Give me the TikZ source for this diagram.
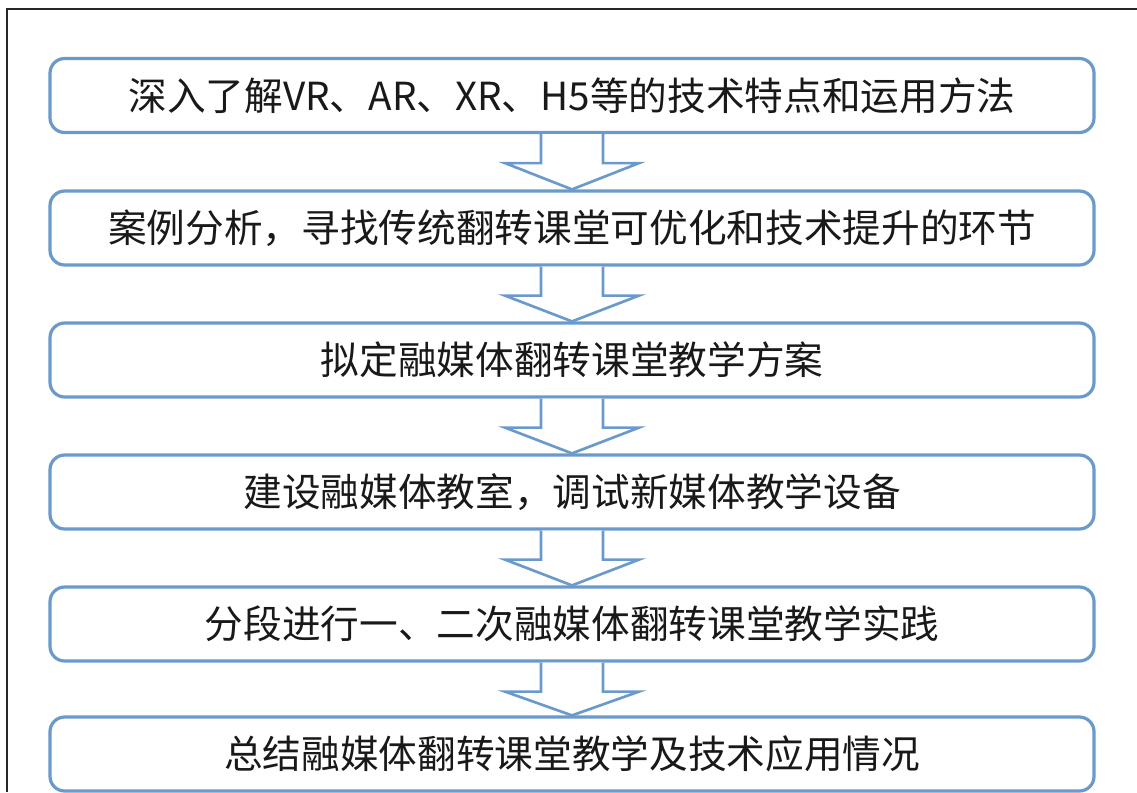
\documentclass[tikz,border=0pt]{standalone}
\usepackage{fontspec}
\setmainfont{Noto Sans CJK SC}
\usetikzlibrary{calc}
\definecolor{boxblue}{RGB}{106,154,204}
\definecolor{txt}{RGB}{25,25,25}
\tikzset{
  stepbox/.style={draw=boxblue, line width=2.4pt, rounded corners=11pt, fill=white,
    minimum width=783pt, minimum height=55.5pt, inner sep=0pt,
    font=\fontsize{29pt}{34pt}\selectfont, text=txt},
  downarrow/.style={draw=boxblue, line width=2pt, fill=white, line join=miter},
  frameline/.style={draw=black!85, line width=1.1pt}
}
\newcommand{\flowarrow}[2]{%
  \path[downarrow] ($(#1.south)+(-31,0)$) -- ($(#1.south)+(-31,29)$) -- ($(#1.south)+(-67,29)$)
    -- (#2.north) -- ($(#1.south)+(67,29)$) -- ($(#1.south)+(31,29)$) -- ($(#1.south)+(31,0)$);}
\begin{document}
\begin{tikzpicture}[x=0.75pt,y=-0.75pt]
\useasboundingbox (0,0) rectangle (1137,792);
\coordinate (fa) at (7,792);
\coordinate (fb) at (7,9);
\coordinate (fc) at (1137,9);
\draw[frameline] (fa) -- (fb) -- (fc);
\node[stepbox] (b1) at (572,95.5) {深入了解VR、AR、XR、H5等的技术特点和运用方法};
\node[stepbox] (b2) at (572,228) {案例分析，寻找传统翻转课堂可优化和技术提升的环节};
\node[stepbox] (b3) at (572,360) {拟定融媒体翻转课堂教学方案};
\node[stepbox] (b4) at (572,492) {建设融媒体教室，调试新媒体教学设备};
\node[stepbox] (b5) at (572,624) {分段进行一、二次融媒体翻转课堂教学实践};
\node[stepbox] (b6) at (572,754) {总结融媒体翻转课堂教学及技术应用情况};
\flowarrow{b1}{b2}
\flowarrow{b2}{b3}
\flowarrow{b3}{b4}
\flowarrow{b4}{b5}
\flowarrow{b5}{b6}
\end{tikzpicture}
\end{document}
